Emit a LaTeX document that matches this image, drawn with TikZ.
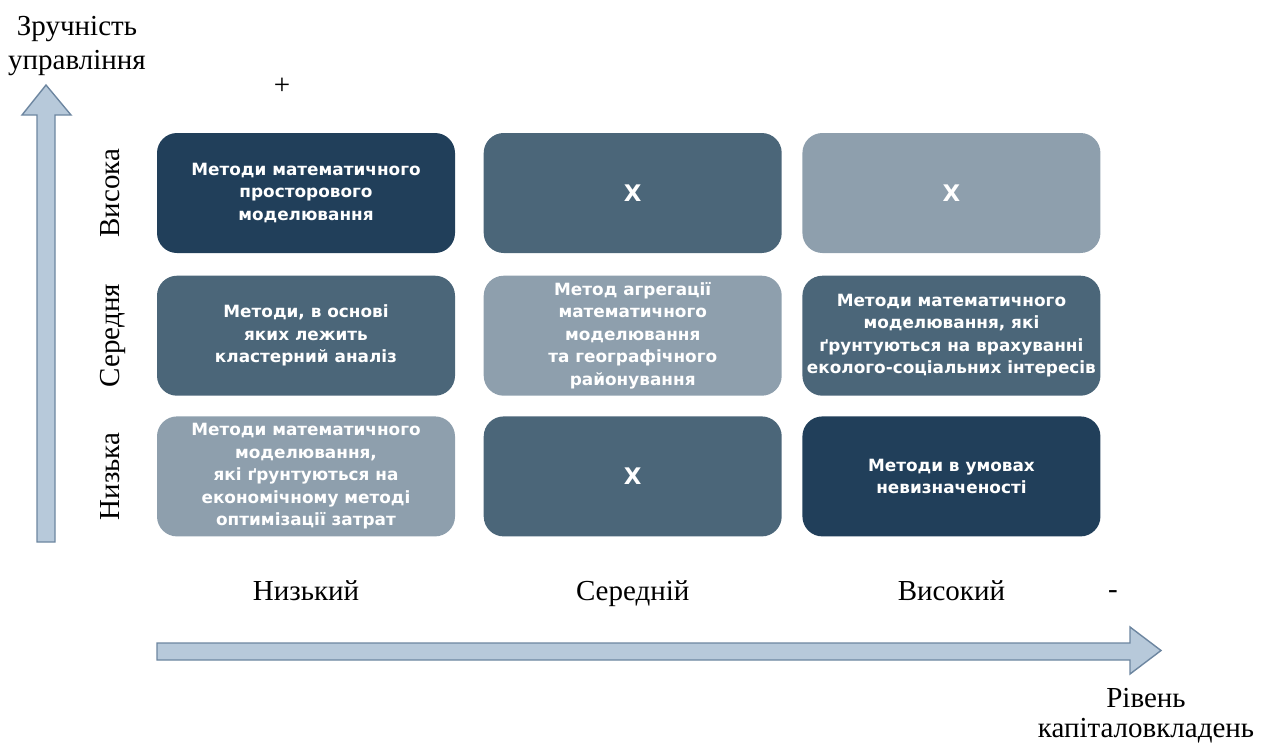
\documentclass[tikz,border=0pt]{standalone}
\usepackage{fontspec}
\setmainfont{Liberation Serif}
\newfontfamily\cellfont{DejaVu Sans}
\usetikzlibrary{positioning}

\definecolor{celldark}{HTML}{213F5A}
\definecolor{cellmid}{HTML}{4B6679}
\definecolor{celllight}{HTML}{8E9FAD}
\definecolor{axisfill}{HTML}{B7C9DA}
\definecolor{axisline}{HTML}{6D86A0}

\begin{document}
\begin{tikzpicture}[x=0.2mm, y=0.2mm,
    cell/.style={rounded corners=0.4cm, minimum width=5.96cm, minimum height=2.4cm,
      inner sep=0pt, text=white, align=center,
      font=\cellfont\bfseries\fontsize{9.6}{12.8}\selectfont},
    empty/.style={cell, font=\cellfont\bfseries\fontsize{13}{15}\selectfont},
    lbl/.style={font=\fontsize{16.5}{19.3}\selectfont},
    axis/.style={fill=axisfill, draw=axisline, line width=0.8pt}]
  \useasboundingbox (0,0) rectangle (1265,745);

  % axes
  \draw[axis] (37,203) -- (37,630) -- (22,630) -- (46,660) -- (71,630)
    -- (55,630) -- (55,203) -- cycle;
  \draw[axis] (157,85) -- (1130,85) -- (1130,71) -- (1161,94.5) -- (1130,118)
    -- (1130,102) -- (157,102) -- cycle;

  % matrix of methods
  \node[cell, fill=celldark] (c11) at (306,552) {Методи математичного\\просторового\\моделювання};
  \node[empty, fill=cellmid, right=0.56cm of c11] (c12) {Х};
  \node[empty, fill=celllight, right=0.4cm of c12] (c13) {Х};
  \node[cell, fill=cellmid, below=0.44cm of c11] (c21) {Методи, в основі\\яких лежить\\кластерний аналіз};
  \node[cell, fill=celllight, right=0.56cm of c21] (c22) {Метод агрегації\\математичного\\моделювання\\та географічного\\районування};
  \node[cell, fill=cellmid, right=0.4cm of c22] (c23) {Методи математичного\\моделювання, які\\ґрунтуються на врахуванні\\еколого-соціальних інтересів};
  \node[cell, fill=celllight, below=0.4cm of c21] (c31) {Методи математичного\\моделювання,\\які ґрунтуються на\\економічному методі\\оптимізації затрат};
  \node[empty, fill=cellmid, right=0.56cm of c31] (c32) {Х};
  \node[cell, fill=celldark, right=0.4cm of c32] (c33) {Методи в умовах\\невизначеності};

  % row and column labels
  \node[lbl, rotate=90, anchor=base] (yhigh) at (c11 -| 119,0) {Висока};
  \node[lbl, rotate=90, anchor=base] (ymid) at (c21 -| 119,0) {Середня};
  \node[lbl, rotate=90, anchor=base] (ylow) at (c31 -| 119,0) {Низька};
  \node[lbl, anchor=base] (xlow) at (c31 |- 0,145) {Низький};
  \node[lbl, anchor=base] (xmid) at (c32 |- 0,145) {Середній};
  \node[lbl, anchor=base] (xhigh) at (c33 |- 0,145) {Високий};

  % axis titles
  \node[lbl, align=center] (ytitle) at (77,699) {Зручність\\управління};
  \node[lbl] (plus) at (282,659) {+};
  \node[lbl] (minus) at (1113,150) {-};
  \node[lbl, align=center, font=\fontsize{16.5}{17}\selectfont] (xtitle) at (1146,29) {Рівень\\капіталовкладень};
\end{tikzpicture}
\end{document}
